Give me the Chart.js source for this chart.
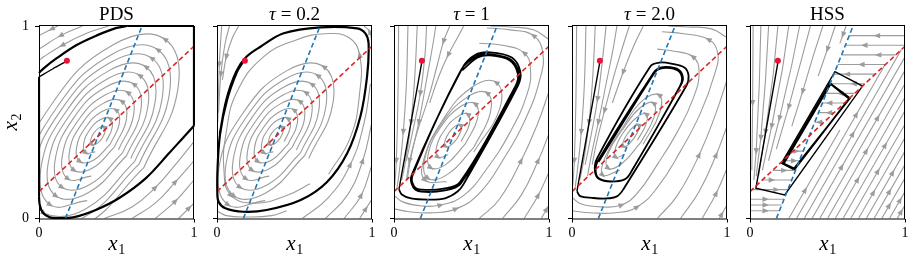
<!DOCTYPE html>
<html>
<head>
<meta charset="utf-8">
<script src="https://cdn.jsdelivr.net/npm/chart.js@4.4.0/dist/chart.umd.min.js"></script>
<style>
body { margin: 0; background: #fff; }
#wrap { position: relative; width: 914px; height: 265px; overflow: hidden; }
canvas { position: absolute; top: 0; }
</style>
</head>
<body>
<div id="wrap"></div>
<script>
// panel titles and ticks
const titles = ['PDS', 'τ = 0.2', 'τ = 1', 'τ = 2.0', 'HSS'];
const tickValues = [0, 1];

// shared lines / start point (data coords)
const redPoint = [0.18, 0.82];
const redLine = [[0, 0.14], [1, 0.895]];
const blueLine = [[0.17, 0], [0.665, 1]];

// closed streamlines around the centre, PDS and tau=0.2
const ringsWide = [
  [[0.406,0.415],[0.426,0.451],[0.419,0.475],[0.389,0.472],[0.354,0.445],[0.334,0.409],[0.341,0.385],[0.371,0.388],[0.406,0.415]],
  [[0.433,0.400],[0.472,0.472],[0.457,0.519],[0.397,0.514],[0.327,0.460],[0.288,0.388],[0.303,0.341],[0.363,0.346]],
  [[0.459,0.386],[0.518,0.493],[0.496,0.564],[0.406,0.556],[0.301,0.474],[0.242,0.367],[0.264,0.296],[0.354,0.304],[0.459,0.386]],
  [[0.486,0.371],[0.564,0.515],[0.534,0.609],[0.414,0.598],[0.274,0.489],[0.196,0.345],[0.226,0.251],[0.346,0.262],[0.486,0.371]],
  [[0.512,0.356],[0.610,0.536],[0.573,0.654],[0.423,0.640],[0.248,0.504],[0.150,0.324],[0.187,0.206],[0.337,0.220]],
  [[0.539,0.341],[0.656,0.557],[0.612,0.698],[0.432,0.683],[0.221,0.519],[0.104,0.303],[0.148,0.162],[0.328,0.177],[0.539,0.341]],
  [[0.565,0.326],[0.702,0.578],[0.650,0.743],[0.440,0.725],[0.195,0.534],[0.058,0.282],[0.110,0.117],[0.320,0.135],[0.565,0.326]],
  [[0.592,0.312],[0.748,0.599],[0.689,0.788],[0.449,0.767],[0.168,0.548],[0.012,0.261],[0.071,0.072],[0.311,0.093]],
  [[0.618,0.297],[0.794,0.620],[0.727,0.833],[0.457,0.809],[0.142,0.563],[-0.034,0.240],[0.033,0.027],[0.303,0.051],[0.618,0.297]],
  [[0.645,0.282],[0.840,0.642],[0.766,0.877],[0.466,0.851],[0.116,0.578],[-0.080,0.218],[-0.006,-0.017],[0.294,0.009],[0.645,0.282]],
  [[0.676,0.264],[0.895,0.667],[0.812,0.931],[0.476,0.901],[0.084,0.596],[-0.135,0.193],[-0.052,-0.071],[0.284,-0.041],[0.676,0.264]]
];
const pdsCorners = [
  [[0.45,1],[0.3,0.96],[0.15,0.9],[0.03,0.84],[0,0.82]],
  [[0.28,1],[0.14,0.95],[0,0.88]],
  [[0.12,1],[0,0.95]],
  [[0.42,0],[0.6,0.06],[0.75,0.16],[0.88,0.28],[1,0.4]],
  [[0.6,0],[0.75,0.08],[0.88,0.19],[1,0.3]],
  [[0.75,0],[0.88,0.09],[1,0.2]],
  [[0.9,0],[1,0.08]]
];
const tau02Outer = [
  [[0.03,1],[0.015,0.8],[0.005,0.5]],
  [[0.08,1],[0.05,0.9],[0.025,0.75],[0.01,0.55]],
  [[0.14,1],[0.1,0.94],[0.06,0.84],[0.035,0.72]],
  [[1,0.9],[0.985,0.97],[0.95,1]],
  [[0.55,0],[0.72,0.11],[0.86,0.28],[0.95,0.5],[0.99,0.7]],
  [[0.7,0],[0.84,0.12],[0.94,0.3],[1,0.5]],
  [[0.82,0],[0.93,0.12],[1,0.28]],
  [[0.92,0],[1,0.1]],
  [[0,0.04],[0.06,0.015],[0.2,0.008],[0.35,0.015],[0.45,0.04]],
  [[0.72,0.23],[0.86,0.42],[0.92,0.65],[0.92,0.85],[0.85,0.94],[0.7,0.96],[0.52,0.93],[0.3,0.84],[0.13,0.66],[0.06,0.45],[0.045,0.25],[0.09,0.12],[0.25,0.08],[0.45,0.12],[0.6,0.18]]
];

// tau = 1
const ringsTau1 = [
  [[0.407,0.415],[0.433,0.459],[0.428,0.485],[0.395,0.480],[0.354,0.445],[0.328,0.401],[0.332,0.375],[0.365,0.380],[0.407,0.415]],
  [[0.433,0.400],[0.485,0.487],[0.476,0.541],[0.410,0.529],[0.327,0.460],[0.275,0.373],[0.284,0.319],[0.350,0.331]],
  [[0.459,0.386],[0.538,0.516],[0.523,0.596],[0.425,0.579],[0.301,0.474],[0.223,0.344],[0.237,0.264],[0.335,0.281],[0.459,0.386]],
  [[0.516,0.371],[0.620,0.545],[0.601,0.652],[0.470,0.629],[0.304,0.489],[0.200,0.315],[0.219,0.209],[0.350,0.232],[0.516,0.371]],
  [[0.515,0.345],[0.683,0.573],[0.659,0.707],[0.496,0.678],[0.305,0.5],[0.19,0.3],[0.2,0.2],[0.34,0.19]]
];
const tau1Outer = [
  [[0.03,1],[0.025,0.6],[0.015,0.3],[0.005,0.17]],
  [[0.09,1],[0.08,0.7],[0.06,0.45],[0.035,0.25],[0.02,0.16]],
  [[0.15,1],[0.135,0.75],[0.11,0.5],[0.075,0.3],[0.05,0.2]],
  [[0.21,1],[0.2,0.85],[0.17,0.65],[0.12,0.45],[0.08,0.3]],
  [[0.27,1],[0.25,0.9],[0.21,0.72],[0.16,0.5],[0.11,0.32],[0.085,0.2]],
  [[0.36,1],[0.32,0.92],[0.28,0.8],[0.22,0.62],[0.15,0.45],[0.1,0.3],[0.08,0.2]],
  [[0.45,1],[0.41,0.94],[0.35,0.85],[0.29,0.74],[0.23,0.6]],
  [[0,0.12],[0.06,0.085],[0.18,0.065],[0.3,0.07],[0.45,0.12],[0.6,0.26],[0.75,0.45],[0.86,0.65],[0.88,0.78],[0.84,0.86],[0.7,0.9],[0.55,0.91]],
  [[0,0.05],[0.1,0.035],[0.25,0.03],[0.4,0.05],[0.55,0.13],[0.7,0.3],[0.85,0.52],[0.94,0.72],[0.96,0.86],[0.9,0.95],[0.75,0.98],[0.6,0.99]],
  [[0.55,0],[0.68,0.1],[0.82,0.3],[0.93,0.5],[1,0.66]],
  [[0.7,0],[0.82,0.12],[0.93,0.3],[1,0.44]],
  [[0.84,0],[0.93,0.12],[1,0.24]],
  [[0.95,0],[1,0.07]],
  [[1,0.93],[0.9,0.98],[0.75,0.995],[0.62,1]]
];

// tau = 2.0
const ringsTau2 = [
  [[0.401,0.418],[0.429,0.461],[0.429,0.486],[0.399,0.478],[0.359,0.442],[0.331,0.399],[0.332,0.374],[0.361,0.382],[0.401,0.418]],
  [[0.422,0.406],[0.479,0.493],[0.477,0.543],[0.419,0.526],[0.338,0.454],[0.281,0.367],[0.283,0.318],[0.341,0.334]],
  [[0.444,0.395],[0.528,0.524],[0.526,0.599],[0.438,0.574],[0.33,0.466],[0.232,0.336],[0.234,0.261],[0.322,0.286],[0.444,0.395]],
  [[0.459,0.386],[0.565,0.548],[0.562,0.641],[0.453,0.611],[0.325,0.47],[0.215,0.32],[0.198,0.225],[0.307,0.250]]
];
const tau2Outer = [
  [[0.03,1],[0.025,0.6],[0.015,0.3],[0.005,0.17]],
  [[0.09,1],[0.08,0.7],[0.06,0.45],[0.035,0.25],[0.02,0.16]],
  [[0.15,1],[0.135,0.75],[0.11,0.5],[0.075,0.3],[0.05,0.2]],
  [[0.22,1],[0.2,0.85],[0.165,0.62],[0.12,0.42],[0.085,0.28]],
  [[0.29,1],[0.265,0.88],[0.22,0.7],[0.17,0.5],[0.13,0.35],[0.1,0.22]],
  [[0.37,1],[0.33,0.9],[0.27,0.74],[0.21,0.56],[0.16,0.4],[0.13,0.28]],
  [[0.46,1],[0.4,0.9],[0.33,0.76],[0.26,0.6]],
  [[0,0.11],[0.06,0.075],[0.2,0.06],[0.32,0.07],[0.42,0.13],[0.55,0.28],[0.68,0.45],[0.78,0.62],[0.82,0.76],[0.78,0.84],[0.65,0.87],[0.55,0.88]],
  [[0,0.04],[0.12,0.03],[0.28,0.03],[0.42,0.06],[0.55,0.16],[0.7,0.35],[0.83,0.55],[0.92,0.75],[0.94,0.86],[0.88,0.93],[0.72,0.96],[0.58,0.97]],
  [[0.55,0],[0.68,0.12],[0.82,0.33],[0.93,0.55],[1,0.72]],
  [[0.7,0],[0.82,0.14],[0.93,0.33],[1,0.48]],
  [[0.84,0],[0.93,0.13],[1,0.26]],
  [[0.95,0],[1,0.07]],
  [[1,0.94],[0.9,0.985],[0.75,0.995],[0.62,1]]
];

// HSS
const hssFan = [
  [[0.02,1],[0.017,0.6],[0.012,0.25]],
  [[0.07,1],[0.06,0.7],[0.04,0.35],[0.025,0.2]],
  [[0.12,1],[0.1,0.72],[0.07,0.42],[0.04,0.22]],
  [[0.18,1],[0.15,0.75],[0.1,0.45],[0.055,0.22]],
  [[0.25,1],[0.21,0.78],[0.14,0.48],[0.08,0.25]],
  [[0.32,1],[0.27,0.8],[0.19,0.52],[0.12,0.3]],
  [[0.39,1],[0.33,0.82],[0.25,0.58],[0.17,0.36]],
  [[0.47,1],[0.41,0.85],[0.34,0.66],[0.27,0.48]],
  [[0.55,1],[0.5,0.88],[0.44,0.74]],
  [[0.62,1],[0.58,0.91]]
];
const hssLow = [
  [[0,0.1],[0.1,0.1],[0.219,0.1]],
  [[0,0.07],[0.1,0.07],[0.204,0.07]],
  [[0,0.04],[0.1,0.04],[0.19,0.04]],
  [[0.278,0.35],[0.343,0.35]],
  [[0.212,0.3],[0.3185,0.3]],
  [[0.146,0.25],[0.294,0.25]],
  [[0.079,0.2],[0.269,0.2]],
  [[0.013,0.15],[0.244,0.15]]
];
const hssTop = [
  [[0.477,0.5],[0.4175,0.5]],
  [[0.543,0.55],[0.442,0.55]],
  [[0.609,0.6],[0.467,0.6]],
  [[0.675,0.65],[0.492,0.65]],
  [[0.742,0.7],[0.5165,0.7]],
  [[0.808,0.75],[0.541,0.75]],
  [[0.874,0.8],[0.566,0.8]],
  [[0.94,0.85],[0.591,0.85]],
  [[1,0.9],[0.6155,0.9]],
  [[1,0.95],[0.64,0.95]]
];
const hssRight = [
  [[0.25,0],[0.58,0.46]],
  [[0.3,0],[0.868,0.795]],
  [[0.35,0],[0.977,0.878]],
  [[0.4,0],[1,0.84]],
  [[0.45,0],[1,0.77]],
  [[0.5,0],[1,0.7]],
  [[0.55,0],[1,0.63]],
  [[0.6,0],[1,0.56]],
  [[0.65,0],[1,0.49]],
  [[0.7,0],[1,0.42]],
  [[0.75,0],[1,0.35]],
  [[0.8,0],[1,0.28]],
  [[0.85,0],[1,0.21]],
  [[0.9,0],[1,0.14]],
  [[0.95,0],[1,0.07]]
];

const panelStreams = [
  ringsWide.concat(pdsCorners),
  ringsWide.slice(0, 8).concat(tau02Outer),
  ringsTau1.concat(tau1Outer),
  ringsTau2.concat(tau2Outer),
  hssFan.concat(hssLow, hssTop, hssRight)
];

// black trajectories: thin start, then thick pieces
const blackThin = [
  [[0.18,0.818],[0.09,0.778],[0,0.735]],
  [],
  [[0.18,0.815],[0.032,0.151]],
  [[0.18,0.815],[0.032,0.142]],
  [[0.182,0.82],[0.038,0.157],[0.224,0.122],[0.726,0.688],[0.548,0.763],[0.203,0.287],[0.28,0.255]]
];
const blackThick = [
  [
    [[0,0.735],[0,0.113]],
    [[0,0.113],[0.005,0.07],[0.025,0.03],[0.07,0.006],[0.12,0.002],[0.22,0.006],[0.37,0.046],[0.52,0.108],[0.69,0.21],[0.84,0.34],[0.93,0.42],[1,0.482]],
    [[1,0.482],[1,1]],
    [[1,1],[0.57,1]],
    [[0.57,1],[0.5,0.99],[0.37,0.95],[0.24,0.9],[0.11,0.83],[0.03,0.78],[0,0.756]]
  ],
  [
    [[0.172,0.818],[0.13,0.763],[0.065,0.616],[0.02,0.44],[0.004,0.27],[0.002,0.14],[0.01,0.087],[0.054,0.053],[0.17,0.035],[0.32,0.044],[0.54,0.096],[0.71,0.19],[0.84,0.339],[0.925,0.53],[0.968,0.737],[0.978,0.91],[0.957,0.962],[0.903,0.988],[0.667,0.993],[0.43,0.962],[0.28,0.892],[0.19,0.84],[0.125,0.765],[0.06,0.616],[0.018,0.44]]
  ],
  [
    [[0.032,0.151],[0.05,0.125],[0.11,0.104],[0.22,0.098],[0.33,0.105],[0.41,0.14],[0.45,0.18],[0.8,0.69],[0.815,0.762],[0.76,0.836],[0.62,0.863],[0.525,0.85],[0.44,0.78],[0.114,0.225],[0.124,0.162],[0.175,0.14],[0.32,0.145],[0.43,0.18],[0.792,0.688],[0.805,0.758],[0.75,0.827],[0.621,0.853],[0.535,0.842],[0.435,0.775],[0.12,0.225],[0.13,0.167],[0.178,0.15],[0.32,0.155],[0.425,0.188],[0.785,0.69],[0.798,0.755],[0.745,0.822],[0.62,0.847],[0.54,0.836],[0.44,0.77]]
  ],
  [
    [[0.032,0.142],[0.053,0.116],[0.13,0.107],[0.22,0.104],[0.29,0.115],[0.33,0.15],[0.737,0.688],[0.752,0.742],[0.725,0.785],[0.64,0.805],[0.566,0.81],[0.505,0.79],[0.16,0.31],[0.148,0.245],[0.175,0.205],[0.25,0.192],[0.34,0.203],[0.38,0.24],[0.7,0.69],[0.716,0.73],[0.69,0.772],[0.61,0.787],[0.55,0.777],[0.52,0.75],[0.168,0.3],[0.153,0.243],[0.178,0.206],[0.255,0.193],[0.342,0.204],[0.382,0.242],[0.695,0.685],[0.71,0.728],[0.685,0.768],[0.61,0.783],[0.552,0.773],[0.522,0.745],[0.172,0.295]]
  ],
  [
    [[0.28,0.255],[0.645,0.625],[0.515,0.703],[0.212,0.287],[0.286,0.257],[0.64,0.622],[0.52,0.698],[0.218,0.286],[0.29,0.258],[0.636,0.619]]
  ]
];

const GRAY = '#9c9c9c';
const SERIF = '"Liberation Serif", "DejaVu Serif", serif';
const panelLefts = [39, 217, 394, 572, 750];

function toXY(a) { return a.map(p => ({ x: p[0], y: p[1] })); }

function buildDatasets(i) {
  const sets = [];
  const straight = i === 4;
  panelStreams[i].forEach(s => sets.push({
    data: toXY(s), showLine: true, borderColor: GRAY, borderWidth: 1.1,
    pointRadius: 0, tension: straight ? 0 : 0.45, clip: 0, order: 5, arrows: true
  }));
  if (blackThin[i].length) sets.push({
    data: toXY(blackThin[i]), showLine: true, borderColor: '#000', borderWidth: 1.4,
    pointRadius: 0, tension: straight ? 0 : 0.3, clip: 1, order: 3
  });
  blackThick[i].forEach(path => sets.push({
    data: toXY(path), showLine: true, borderColor: '#000', borderWidth: i >= 2 ? 1.8 : 2.2,
    pointRadius: 0, tension: straight ? 0 : 0.35, clip: 1, order: 3
  }));
  sets.push({
    data: toXY(redLine), showLine: true, borderColor: '#d62728', borderWidth: 1.6,
    borderDash: [5, 3], pointRadius: 0, clip: 0, order: 2
  });
  sets.push({
    data: toXY(blueLine), showLine: true, borderColor: '#1f77b4', borderWidth: 1.6,
    borderDash: [5, 3], pointRadius: 0, clip: 0, order: 2
  });
  sets.push({
    data: [{ x: redPoint[0], y: redPoint[1] }], showLine: false,
    pointRadius: 3, backgroundColor: '#e8143c', borderWidth: 0, order: 0
  });
  return sets;
}

// arrowheads along the gray streamlines
const arrowPlugin = {
  id: 'arrows',
  afterDatasetDraw(chart, args) {
    const ds = chart.data.datasets[args.index];
    if (!ds.arrows) return;
    const { ctx, chartArea: ca, scales } = chart;
    const p = ds.data.map(d => [scales.x.getPixelForValue(d.x), scales.y.getPixelForValue(d.y)]);
    const n = p.length;
    const spots = [];
    if (n === 2) {
      const f = [0.5, 0.32, 0.68][args.index % 3];
      spots.push([p[0][0] + (p[1][0] - p[0][0]) * f, p[0][1] + (p[1][1] - p[0][1]) * f, p[1][0] - p[0][0], p[1][1] - p[0][1]]);
    } else {
      const idx = n >= 7 ? [Math.floor(n / 4), Math.floor(3 * n / 4)] : [Math.floor(n / 2)];
      idx.forEach(k => spots.push([p[k][0], p[k][1], p[k + 1][0] - p[k - 1][0], p[k + 1][1] - p[k - 1][1]]));
    }
    ctx.save();
    ctx.beginPath();
    ctx.rect(ca.left, ca.top, ca.width, ca.height);
    ctx.clip();
    ctx.fillStyle = ds.borderColor;
    spots.forEach(([x, y, dx, dy]) => {
      if (x < ca.left + 2 || x > ca.right - 2 || y < ca.top + 2 || y > ca.bottom - 2) return;
      const len = Math.hypot(dx, dy) || 1;
      const ux = dx / len, uy = dy / len;
      ctx.beginPath();
      ctx.moveTo(x + ux * 3.5, y + uy * 3.5);
      ctx.lineTo(x - ux * 3 - uy * 2.7, y - uy * 3 + ux * 2.7);
      ctx.lineTo(x - ux * 3 + uy * 2.7, y - uy * 3 - ux * 2.7);
      ctx.closePath();
      ctx.fill();
    });
    ctx.restore();
  }
};

function drawSub(ctx, base, sub, x, y, size) {
  ctx.font = 'italic ' + size + 'px ' + SERIF;
  const w1 = ctx.measureText(base).width;
  ctx.font = Math.round(size * 0.68) + 'px ' + SERIF;
  const w2 = ctx.measureText(sub).width;
  const x0 = x - (w1 + w2) / 2;
  ctx.textAlign = 'left';
  ctx.font = 'italic ' + size + 'px ' + SERIF;
  ctx.fillText(base, x0, y);
  ctx.font = Math.round(size * 0.68) + 'px ' + SERIF;
  ctx.fillText(sub, x0 + w1 + 0.5, y + 4);
}

const decoPlugin = {
  id: 'deco',
  afterDraw(chart, args, opts) {
    const { ctx, chartArea: ca } = chart;
    const i = opts.index;
    ctx.save();
    // frame
    ctx.strokeStyle = '#000';
    ctx.lineWidth = 1;
    ctx.strokeRect(Math.round(ca.left) + 0.5, Math.round(ca.top) - 0.5, Math.round(ca.width) - 1, Math.round(ca.height) + 0.5);
    ctx.fillStyle = '#000';
    ctx.textBaseline = 'alphabetic';
    const cx = (ca.left + ca.right) / 2;
    // title
    const t = titles[i];
    if (t[0] === 'τ') {
      const rest = t.slice(1);
      ctx.font = 'italic 19px ' + SERIF;
      const w1 = ctx.measureText('τ').width;
      ctx.font = '19px ' + SERIF;
      const w2 = ctx.measureText(rest).width;
      const x0 = cx - (w1 + w2) / 2;
      ctx.textAlign = 'left';
      ctx.font = 'italic 19px ' + SERIF;
      ctx.fillText('τ', x0, 20);
      ctx.font = '19px ' + SERIF;
      ctx.fillText(rest, x0 + w1, 20);
    } else {
      ctx.font = '19px ' + SERIF;
      ctx.textAlign = 'center';
      ctx.fillText(t, cx, 20);
    }
    // x label
    drawSub(ctx, 'x', '1', cx, 250, 21);
    // y label on first panel
    if (i === 0) {
      ctx.translate(16.5, (ca.top + ca.bottom) / 2);
      ctx.rotate(-Math.PI / 2);
      drawSub(ctx, 'x', '2', 0, 0, 21);
    }
    ctx.restore();
  }
};

const wrap = document.getElementById('wrap');
panelLefts.forEach((L, i) => {
  const cv = document.createElement('canvas');
  cv.width = 200;
  cv.height = 265;
  cv.style.left = (L - 39) + 'px';
  cv.style.width = '200px';
  cv.style.height = '265px';
  wrap.appendChild(cv);
  new Chart(cv, {
    type: 'scatter',
    data: { datasets: buildDatasets(i) },
    plugins: [arrowPlugin, decoPlugin],
    options: {
      responsive: false,
      animation: false,
      devicePixelRatio: 1,
      layout: { padding: { top: 26, right: 6, left: 0, bottom: 0 } },
      plugins: { legend: { display: false }, tooltip: { enabled: false }, deco: { index: i } },
      scales: {
        x: {
          type: 'linear', min: 0, max: 1,
          afterBuildTicks: s => { s.ticks = tickValues.map(v => ({ value: v })); },
          afterFit: s => { s.height = 46.5; },
          border: { display: false },
          grid: { display: true, drawOnChartArea: false, drawTicks: true, tickLength: 4, color: '#000' },
          ticks: { font: { family: SERIF, size: 14 }, color: '#000', padding: 2, maxRotation: 0 }
        },
        y: {
          type: 'linear', min: 0, max: 1,
          afterBuildTicks: s => { s.ticks = tickValues.map(v => ({ value: v })); },
          afterFit: s => { s.width = 39; },
          border: { display: false },
          grid: { display: true, drawOnChartArea: false, drawTicks: true, tickLength: 4, color: '#000' },
          ticks: { font: { family: SERIF, size: 14 }, color: i === 0 ? '#000' : 'rgba(0,0,0,0)', padding: 6 }
        }
      }
    }
  });
});
</script>
</body>
</html>
